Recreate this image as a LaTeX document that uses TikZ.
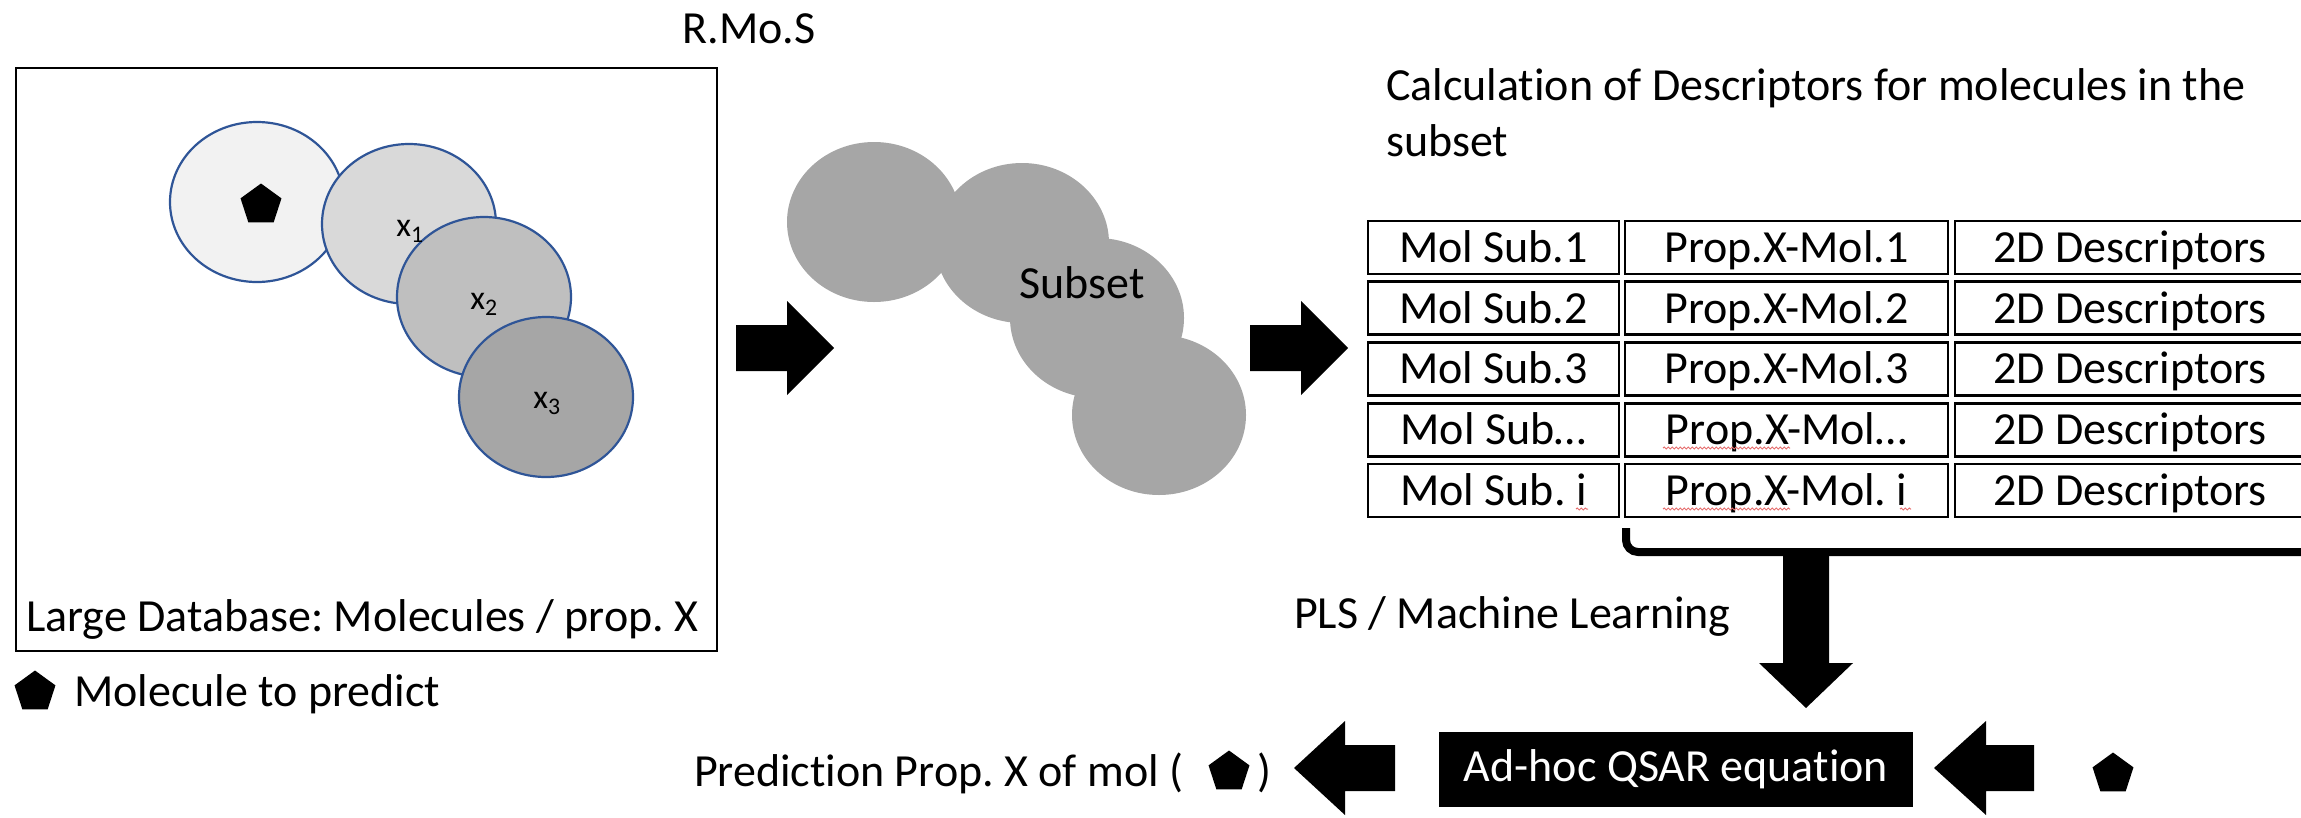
\documentclass[tikz,border=0pt]{standalone}
\usepackage{fontspec}
\setmainfont{Carlito}[Ligatures={NoCommon,NoContextual,NoRequired}, Contextuals=NoAlternate]
\usetikzlibrary{shapes.geometric,decorations.pathmorphing}
\frenchspacing

\definecolor{ringblue}{RGB}{47,85,151}
\definecolor{shade0}{HTML}{F2F2F2}
\definecolor{shade1}{HTML}{D9D9D9}
\definecolor{shade2}{HTML}{BFBFBF}
\definecolor{shade3}{HTML}{A6A6A6}
\definecolor{squiggle}{RGB}{230,110,110}

\begin{document}
\begin{tikzpicture}[x=1pt,y=-1pt,
  every node/.style={font=\fontsize{46}{55}\selectfont, inner sep=0pt, outer sep=0pt},
  mol/.style={ellipse, draw=ringblue, line width=2.2pt, minimum width=174pt, minimum height=160pt},
  blob/.style={ellipse, fill=shade3, minimum width=174pt, minimum height=160pt},
  penta/.style={regular polygon, regular polygon sides=5, fill=black, minimum size=43pt},
  xlabel/.style={anchor=base, font=\fontsize{34}{40}\selectfont},
  cell/.style={draw, line width=2.8pt, minimum height=53pt, text height=29.6pt, text depth=0pt},
  cellA/.style={cell, minimum width=251pt},
  cellB/.style={cell, minimum width=323pt},
  cellC/.style={cell, minimum width=350pt},
  spell/.style={draw=squiggle, line width=1pt, decorate, decoration={snake, amplitude=1pt, segment length=4pt}}
]
\useasboundingbox (0,0) rectangle (2301,817);
\clip (0,0) rectangle (2301,817);

% database frame
\node[draw, line width=2.4pt, minimum width=701pt, minimum height=583pt] (db) at (366.5,359.5) {};
\node[anchor=base west] (dblabel) at (26,631) {Large Database: Molecules / prop. X};

% molecules in the database
\node[mol, fill=shade0] (m0) at (257,202) {};
\node[mol, fill=shade1] (m1) at (409,224) {};
\node[mol, fill=shade2] (m2) at (484,297) {};
\node[mol, fill=shade3] (m3) at (546,397) {};
\node[penta] (q0) at (261,205) {};
\node[xlabel] (l1) at (410,236) {x\textsubscript{1}};
\node[xlabel] (l2) at (484,309) {x\textsubscript{2}};
\node[xlabel] (l3) at (547,408) {x\textsubscript{3}};

% legend
\node[penta] (q1) at (35,692) {};
\node[anchor=base west] (legend) at (74,706) {Molecule to predict};

\node[anchor=base] (rmos) at (749,43) {R.Mo.S};

% arrow to subset
\fill (736,325) -- (787,325) -- (787,301) -- (834,348) -- (787,395) -- (787,371) -- (736,371) -- cycle;

% subset
\node[blob] (s1) at (874,222) {};
\node[blob] (s2) at (1022,243) {};
\node[blob] (s3) at (1097,318) {};
\node[blob] (s4) at (1159,415) {};
\node[anchor=base] (subset) at (1082,298) {Subset};

% arrow to table
\fill (1250,325) -- (1301,325) -- (1301,301) -- (1348,348) -- (1301,395) -- (1301,371) -- (1250,371) -- cycle;

% descriptor table
\node[anchor=base west] (calc1) at (1386,100) {Calculation of Descriptors for molecules in the};
\node[anchor=base west] (calc2) at (1386,156) {subset};

\node[cellA] (a1) at (1493.5,247.5) {Mol Sub.1};
\node[cellA] (a2) at (1493.5,308.25) {Mol Sub.2};
\node[cellA] (a3) at (1493.5,369) {Mol Sub.3};
\node[cellA] (a4) at (1493.5,429.75) {Mol Sub…};
\node[cellA] (a5) at (1493.5,490.5) {Mol Sub. i};
\node[cellB] (b1) at (1786.5,247.5) {Prop.X-Mol.1};
\node[cellB] (b2) at (1786.5,308.25) {Prop.X-Mol.2};
\node[cellB] (b3) at (1786.5,369) {Prop.X-Mol.3};
\node[cellB] (b4) at (1786.5,429.75) {Prop.X-Mol…};
\node[cellB] (b5) at (1786.5,490.5) {Prop.X-Mol. i};
\node[cellC] (c1) at (2130,247.5) {2D Descriptors};
\node[cellC] (c2) at (2130,308.25) {2D Descriptors};
\node[cellC] (c3) at (2130,369) {2D Descriptors};
\node[cellC] (c4) at (2130,429.75) {2D Descriptors};
\node[cellC] (c5) at (2130,490.5) {2D Descriptors};

% spell-check marks
\draw[spell] (1663,448) -- (1790,448);
\draw[spell] (1663,509) -- (1790,509);
\draw[spell] (1576,509) -- (1588,509);
\draw[spell] (1900,509) -- (1911,509);

% bracket and learning arrow
\draw[line width=8pt, rounded corners=12pt] (1626,528) -- (1626,552) -- (2320,552);
\fill (1783,552) -- (1829,552) -- (1829,663) -- (1853,663) -- (1806,708) -- (1759,663) -- (1783,663) -- cycle;
\node[anchor=base west] (pls) at (1294,628) {PLS / Machine Learning};

% prediction row
\node[fill=black, text=white, minimum width=474pt, minimum height=75pt] (eq) at (1676,769.5) {Ad-hoc QSAR equation};
\fill (2034,745) -- (1986,745) -- (1986,721) -- (1934,768) -- (1986,815) -- (1986,791) -- (2034,791) -- cycle;
\node[penta] (q2) at (2113,774) {};
\fill (1395,745) -- (1345,745) -- (1345,721) -- (1294,768) -- (1345,815) -- (1345,791) -- (1395,791) -- cycle;
\node[anchor=base west] (pred) at (694,786) {Prediction Prop. X of mol (};
\node[penta] (q3) at (1229,772) {};
\node[anchor=base east] (close) at (1271,786) {)};
\end{tikzpicture}
\end{document}
